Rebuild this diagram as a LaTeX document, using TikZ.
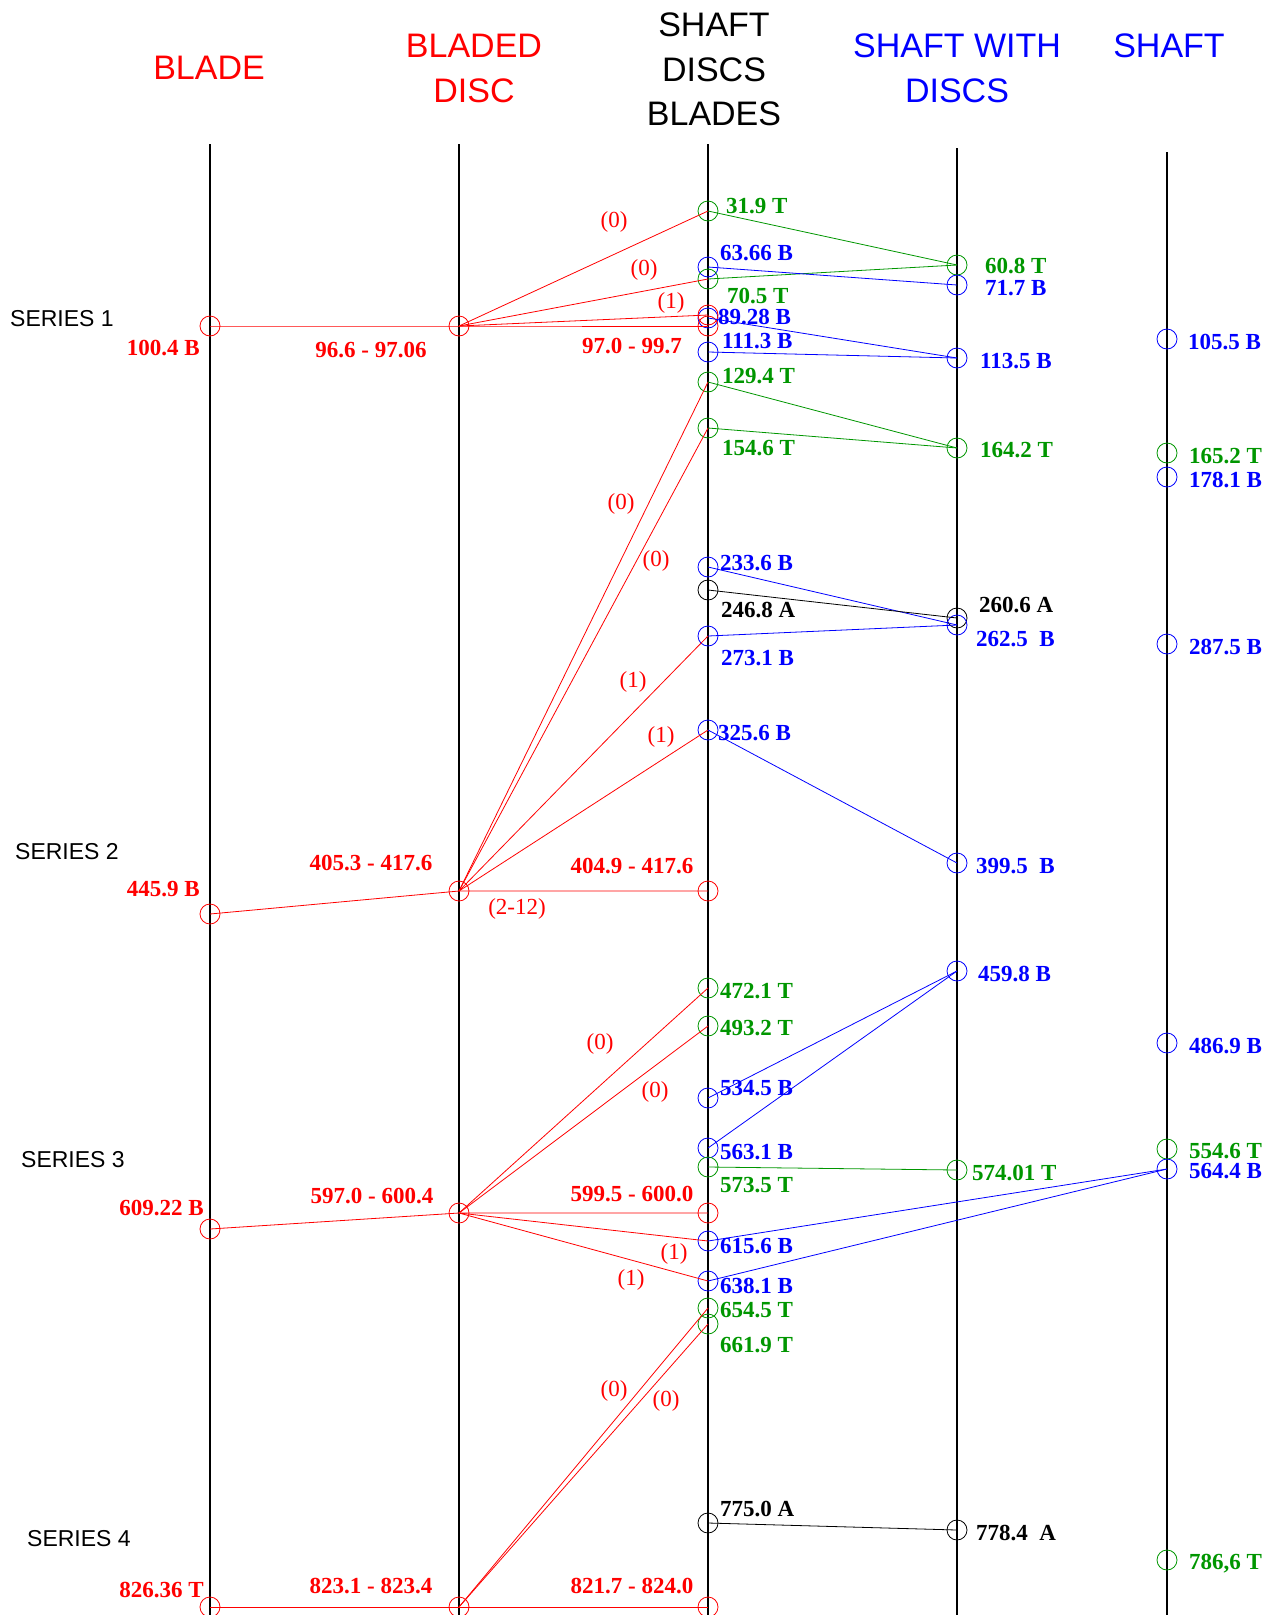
\documentclass[tikz,border=0pt]{standalone}
\usepackage{fontspec}
\setmainfont{Liberation Serif}
\newfontfamily\headfont{Liberation Sans}
\definecolor{grn}{RGB}{0,150,0}
\tikzset{
  mode/.style={circle, draw, minimum size=20pt, inner sep=0pt, line width=0.8pt},
  val/.style={font=\fontsize{23}{23}\selectfont\bfseries, inner sep=0pt, anchor=base west},
  rng/.style={font=\fontsize{23}{23}\selectfont\bfseries, text=red, inner sep=0pt, anchor=base},
  ord/.style={font=\fontsize{23}{23}\selectfont, text=red, inner sep=0pt},
  head/.style={font=\headfont\fontsize{34}{34}\selectfont, inner sep=0pt, anchor=base},
  series/.style={font=\headfont\fontsize{23}{23}\selectfont, inner sep=0pt, anchor=base west},
  link/.style={line width=0.8pt},
  shaft/.style={line width=2pt}
}

\begin{document}
\begin{tikzpicture}[x=1pt, y=-1pt]
  \useasboundingbox (0,0) rectangle (1274,1615);

  % Headings
  \node[head, red] (hblade) at (209,79) {BLADE};
  \node[head, red] (hbd1) at (474,57) {BLADED};
  \node[head, red] (hbd2) at (474,102) {DISC};
  \node[head] (hsdb1) at (714,36) {SHAFT};
  \node[head] (hsdb2) at (714,81) {DISCS};
  \node[head] (hsdb3) at (714,125) {BLADES};
  \node[head, blue] (hsd1) at (957,57) {SHAFT WITH};
  \node[head, blue] (hsd2) at (957,102) {DISCS};
  \node[head, blue] (hs) at (1169,57) {SHAFT};

  \node[series] (s1) at (10,326) {SERIES 1};
  \node[series] (s2) at (15,859) {SERIES 2};
  \node[series] (s3) at (21,1167) {SERIES 3};
  \node[series] (s4) at (27,1546) {SERIES 4};

  % Columns
  \coordinate (ta) at (210,144);  \coordinate (ba) at (210,1615);
  \coordinate (tb) at (459,144);  \coordinate (bb) at (459,1615);
  \coordinate (tc) at (708,144);  \coordinate (bc) at (708,1615);
  \coordinate (td) at (957,148);  \coordinate (bd) at (957,1615);
  \coordinate (te) at (1167,152); \coordinate (be) at (1167,1615);
  \draw[shaft] (ta) -- (ba);
  \draw[shaft] (tb) -- (bb);
  \draw[shaft] (tc) -- (bc);
  \draw[shaft] (td) -- (bd);
  \draw[shaft] (te) -- (be);

  % Nodes: blade and bladed disc
  \node[mode, red] (a1) at (210,326) {};
  \node[mode, red] (a2) at (210,914) {};
  \node[mode, red] (a3) at (210,1229) {};
  \node[mode, red] (a4) at (210,1607) {};
  \node[mode, red] (b1) at (459,326) {};
  \node[mode, red] (b2) at (459,891) {};
  \node[mode, red] (b3) at (459,1213) {};
  \node[mode, red] (b4) at (459,1607) {};

  % Nodes: shaft, discs, blades
  \node[mode, blue] (c89) at (708,318) {};
  \node[mode, red] (c1a) at (708,315) {};
  \node[mode, red] (c1) at (708,326) {};
  \node[mode, grn] (c31) at (708,211) {};
  \node[mode, blue] (c63) at (708,267) {};
  \node[mode, grn] (c70) at (708,279) {};
  \node[mode, blue] (c111) at (708,352) {};
  \node[mode, grn] (c129) at (708,382) {};
  \node[mode, grn] (c154) at (708,428) {};
  \node[mode, blue] (c233) at (708,567) {};
  \node[mode] (c246) at (708,590) {};
  \node[mode, blue] (c273) at (708,636) {};
  \node[mode, blue] (c325) at (708,730) {};
  \node[mode, red] (c2) at (708,891) {};
  \node[mode, grn] (c472) at (708,988) {};
  \node[mode, grn] (c493) at (708,1026) {};
  \node[mode, blue] (c534) at (708,1098) {};
  \node[mode, blue] (c563) at (708,1148) {};
  \node[mode, grn] (c573) at (708,1167) {};
  \node[mode, red] (c3) at (708,1213) {};
  \node[mode, blue] (c615) at (708,1241) {};
  \node[mode, blue] (c638) at (708,1281) {};
  \node[mode, grn] (c654) at (708,1308) {};
  \node[mode, grn] (c661) at (708,1324) {};
  \node[mode] (c775) at (708,1523) {};
  \node[mode, red] (c4) at (708,1607) {};

  % Nodes: shaft with discs
  \node[mode, grn] (d60) at (957,265) {};
  \node[mode, blue] (d71) at (957,285) {};
  \node[mode, blue] (d113) at (957,358) {};
  \node[mode, grn] (d164) at (957,448) {};
  \node[mode] (d260) at (957,618) {};
  \node[mode, blue] (d262) at (957,625) {};
  \node[mode, blue] (d399) at (957,863) {};
  \node[mode, blue] (d459) at (957,971) {};
  \node[mode, grn] (d574) at (957,1170) {};
  \node[mode] (d778) at (957,1530) {};

  % Nodes: shaft
  \node[mode, blue] (e105) at (1167,339) {};
  \node[mode, grn] (e165) at (1167,453) {};
  \node[mode, blue] (e178) at (1167,477) {};
  \node[mode, blue] (e287) at (1167,644) {};
  \node[mode, blue] (e486) at (1167,1043) {};
  \node[mode, grn] (e554) at (1167,1149) {};
  \node[mode, blue] (e564) at (1167,1169) {};
  \node[mode, grn] (e786) at (1167,1560) {};

  % Links
  \draw[link, red] (a1.center) -- (b1.center) -- (c1.center);
  \draw[link, red] (b1.center) -- (c1a.center);
  \draw[link, red] (b1.center) -- (c70.center);
  \draw[link, red] (b1.center) -- (c31.center);
  \draw[link, red] (a2.center) -- (b2.center) -- (c2.center);
  \draw[link, red] (b2.center) -- (c129.center);
  \draw[link, red] (b2.center) -- (c154.center);
  \draw[link, red] (b2.center) -- (c273.center);
  \draw[link, red] (b2.center) -- (c325.center);
  \draw[link, red] (a3.center) -- (b3.center) -- (c3.center);
  \draw[link, red] (b3.center) -- (c472.center);
  \draw[link, red] (b3.center) -- (c493.center);
  \draw[link, red] (b3.center) -- (c615.center);
  \draw[link, red] (b3.center) -- (c638.center);
  \draw[link, red] (a4.center) -- (b4.center) -- (c4.center);
  \draw[link, red] (b4.center) -- (c654.center);
  \draw[link, red] (b4.center) -- (c661.center);

  \draw[link, grn] (c31.center) -- (d60.center);
  \draw[link, grn] (c70.center) -- (d60.center);
  \draw[link, grn] (c129.center) -- (d164.center);
  \draw[link, grn] (c154.center) -- (d164.center);
  \draw[link, grn] (c573.center) -- (d574.center);
  \draw[link, blue] (c63.center) -- (d71.center);
  \draw[link, blue] (c89.center) -- (d113.center);
  \draw[link, blue] (c111.center) -- (d113.center);
  \draw[link, blue] (c233.center) -- (d262.center);
  \draw[link, blue] (c273.center) -- (d262.center);
  \draw[link, blue] (c325.center) -- (d399.center);
  \draw[link, blue] (d459.center) -- (c534.center);
  \draw[link, blue] (d459.center) -- (c563.center);
  \draw[link, blue] (e564.center) -- (c615.center);
  \draw[link, blue] (e564.center) -- (c638.center);
  \draw[link] (c246.center) -- (d260.center);
  \draw[link] (c775.center) -- (d778.center);

  % Orders
  \node[ord] (o1) at (614,222) {(0)};
  \node[ord] (o2) at (644,270) {(0)};
  \node[ord] (o3) at (671,303) {(1)};
  \node[ord] (o4) at (621,504) {(0)};
  \node[ord] (o5) at (656,561) {(0)};
  \node[ord] (o6) at (633,682) {(1)};
  \node[ord] (o7) at (661,737) {(1)};
  \node[ord] (o8) at (517,909) {(2-12)};
  \node[ord] (o9) at (600,1044) {(0)};
  \node[ord] (o10) at (655,1092) {(0)};
  \node[ord] (o11) at (674,1254) {(1)};
  \node[ord] (o12) at (631,1280) {(1)};
  \node[ord] (o13) at (614,1391) {(0)};
  \node[ord] (o14) at (666,1401) {(0)};

  % Values: blade and bladed disc
  \node[rng, anchor=base east] (la1) at (200,355) {100.4 B};
  \node[rng, anchor=base east] (la2) at (200,896) {445.9 B};
  \node[rng, anchor=base east] (la3) at (204,1215) {609.22 B};
  \node[rng, anchor=base east] (la4) at (204,1597) {826.36 T};
  \node[rng] (lb1) at (371,357) {96.6 - 97.06};
  \node[rng] (lb2) at (371,870) {405.3 - 417.6};
  \node[rng] (lb3) at (372,1203) {597.0 - 600.4};
  \node[rng] (lb4) at (371,1593) {823.1 - 823.4};
  \node[rng] (lc1) at (632,353) {97.0 - 99.7};
  \node[rng] (lc2) at (632,873) {404.9 - 417.6};
  \node[rng] (lc3) at (632,1201) {599.5 - 600.0};
  \node[rng] (lc4) at (632,1593) {821.7 - 824.0};

  % Values: shaft, discs, blades
  \node[val, grn] (l31) at (726,213) {31.9 T};
  \node[val, blue] (l63) at (720,260) {63.66 B};
  \node[val, grn] (l70) at (727,303) {70.5 T};
  \node[val, blue] (l89) at (718,324) {89.28 B};
  \node[val, blue] (l111) at (722,348) {111.3 B};
  \node[val, grn] (l129) at (722,383) {129.4 T};
  \node[val, grn] (l154) at (722,455) {154.6 T};
  \node[val, blue] (l233) at (720,570) {233.6 B};
  \node[val] (l246) at (721,617) {246.8 A};
  \node[val, blue] (l273) at (721,665) {273.1 B};
  \node[val, blue] (l325) at (718,740) {325.6 B};
  \node[val, grn] (l472) at (720,998) {472.1 T};
  \node[val, grn] (l493) at (720,1035) {493.2 T};
  \node[val, blue] (l534) at (720,1095) {534.5 B};
  \node[val, blue] (l563) at (720,1159) {563.1 B};
  \node[val, grn] (l573) at (720,1192) {573.5 T};
  \node[val, blue] (l615) at (720,1253) {615.6 B};
  \node[val, blue] (l638) at (720,1293) {638.1 B};
  \node[val, grn] (l654) at (720,1317) {654.5 T};
  \node[val, grn] (l661) at (720,1352) {661.9 T};
  \node[val] (l775) at (720,1516) {775.0 A};

  % Values: shaft with discs
  \node[val, grn] (l60) at (985,273) {60.8 T};
  \node[val, blue] (l71) at (985,295) {71.7 B};
  \node[val, blue] (l113) at (980,368) {113.5 B};
  \node[val, grn] (l164) at (980,457) {164.2 T};
  \node[val] (l260) at (979,612) {260.6 A};
  \node[val, blue] (l262) at (976,646) {262.5\ \ B};
  \node[val, blue] (l399) at (976,873) {399.5\ \ B};
  \node[val, blue] (l459) at (978,981) {459.8 B};
  \node[val, grn] (l574) at (972,1180) {574.01 T};
  \node[val] (l778) at (976,1540) {778.4\ \ A};

  % Values: shaft
  \node[val, blue] (l105) at (1188,349) {105.5 B};
  \node[val, grn] (l165) at (1189,463) {165.2 T};
  \node[val, blue] (l178) at (1189,487) {178.1 B};
  \node[val, blue] (l287) at (1189,654) {287.5 B};
  \node[val, blue] (l486) at (1189,1053) {486.9 B};
  \node[val, grn] (l554) at (1189,1158) {554.6 T};
  \node[val, blue] (l564) at (1189,1178) {564.4 B};
  \node[val, grn] (l786) at (1189,1569) {786,6 T};
\end{tikzpicture}
\end{document}
